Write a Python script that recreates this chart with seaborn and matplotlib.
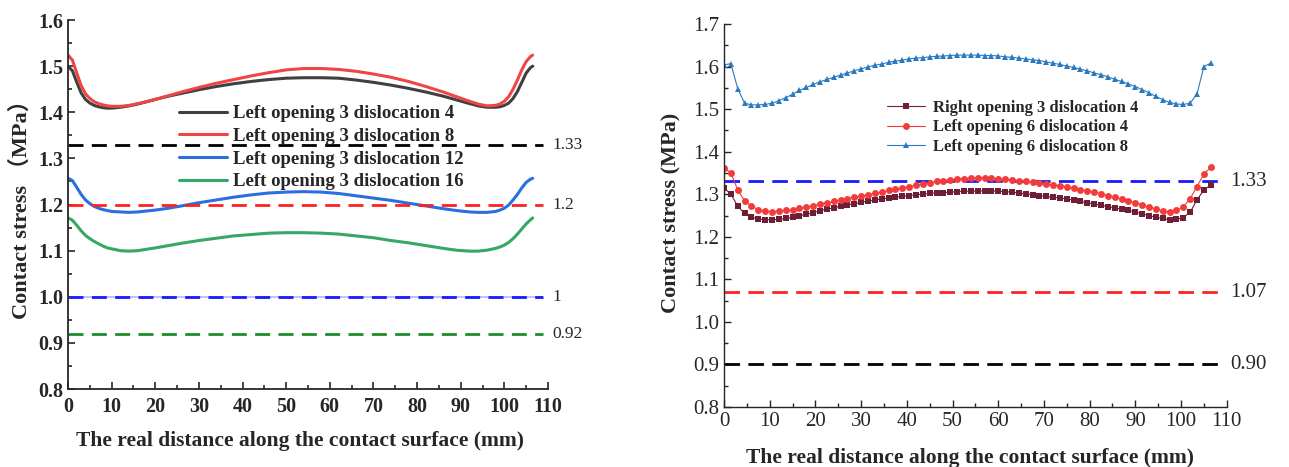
# %%
import numpy as np
import seaborn as sns
import matplotlib.pyplot as plt
from matplotlib.ticker import MultipleLocator, FormatStrFormatter

sns.set_style('ticks')
plt.rcParams['font.family'] = ['Liberation Serif', 'Noto Sans CJK SC', 'DejaVu Sans']
plt.rcParams['xtick.direction'] = 'in'
plt.rcParams['ytick.direction'] = 'in'

# %%
# left panel: opening 3, different dislocations
x_left = [0, 1, 2, 3, 4, 5, 6, 7, 8, 9, 10, 12, 14, 16, 18, 20, 23, 26, 30, 34, 38, 42,
          46, 50, 54, 58, 62, 66, 70, 74, 78, 82, 86, 89, 92, 94, 96, 98, 99, 100, 101,
          102, 103, 104, 105, 106, 106.5]

disloc_4 = [1.500, 1.490, 1.465, 1.442, 1.428, 1.420, 1.415, 1.412, 1.410, 1.409, 1.409,
            1.411, 1.414, 1.418, 1.423, 1.428, 1.435, 1.441, 1.449, 1.456, 1.462, 1.467,
            1.471, 1.474, 1.475, 1.475, 1.474, 1.470, 1.465, 1.459, 1.452, 1.444, 1.435,
            1.427, 1.419, 1.414, 1.411, 1.411, 1.412, 1.415, 1.420, 1.430, 1.445, 1.465,
            1.485, 1.497, 1.500]
disloc_8 = [1.524, 1.513, 1.485, 1.458, 1.440, 1.430, 1.423, 1.419, 1.416, 1.414, 1.413,
            1.413, 1.415, 1.419, 1.423, 1.428, 1.436, 1.444, 1.454, 1.463, 1.471, 1.479,
            1.486, 1.492, 1.495, 1.495, 1.493, 1.489, 1.483, 1.476, 1.467, 1.456, 1.444,
            1.434, 1.424, 1.418, 1.414, 1.415, 1.418, 1.424, 1.434, 1.450, 1.470, 1.492,
            1.510, 1.521, 1.524]
disloc_12 = [1.257, 1.252, 1.237, 1.222, 1.210, 1.202, 1.196, 1.192, 1.189, 1.187, 1.185,
             1.184, 1.183, 1.184, 1.186, 1.188, 1.192, 1.197, 1.204, 1.210, 1.216, 1.221,
             1.225, 1.227, 1.228, 1.227, 1.224, 1.219, 1.214, 1.209, 1.203, 1.197, 1.191,
             1.187, 1.184, 1.183, 1.183, 1.185, 1.188, 1.192, 1.199, 1.210, 1.222, 1.236,
             1.248, 1.255, 1.257]
disloc_16 = [1.171, 1.166, 1.155, 1.143, 1.133, 1.126, 1.120, 1.115, 1.110, 1.106, 1.104,
             1.100, 1.099, 1.100, 1.103, 1.106, 1.111, 1.116, 1.122, 1.127, 1.132, 1.135,
             1.138, 1.139, 1.139, 1.138, 1.136, 1.132, 1.128, 1.122, 1.117, 1.111, 1.105,
             1.101, 1.099, 1.099, 1.101, 1.105, 1.108, 1.112, 1.118, 1.126, 1.136, 1.147,
             1.158, 1.167, 1.171]

left_labels = ['Left opening 3 dislocation 4', 'Left opening 3 dislocation 8',
               'Left opening 3 dislocation 12', 'Left opening 3 dislocation 16']
left_ref = [1.33, 1.2, 1.0, 0.92]
left_ref_text = ['1.33', '1.2', '1', '0.92']

# %%
# right panel
x_right = [0, 1.5, 3, 4.5, 6, 7.5, 9, 10.5, 12, 13.5, 15, 16.5,
           18, 19.5, 21, 22.5, 24, 25.5, 27, 28.5, 30, 31.5, 33, 34.5,
           36, 37.5, 39, 40.5, 42, 43.5, 45, 46.5, 48, 49.5, 51, 52.5,
           54, 55.5, 57, 58.5, 60, 61.5, 63, 64.5, 66, 67.5, 69, 70.5,
           72, 73.5, 75, 76.5, 78, 79.5, 81, 82.5, 84, 85.5, 87, 88.5,
           90, 91.5, 93, 94.5, 96, 97.5, 99, 100.5, 102, 103.5, 105, 106.5]

right_o3_d4 = [1.315, 1.300, 1.272, 1.255, 1.246, 1.242, 1.240, 1.240, 1.241, 1.243, 1.246, 1.249,
               1.253, 1.257, 1.261, 1.265, 1.268, 1.272, 1.275, 1.278, 1.281, 1.284, 1.286, 1.289,
               1.291, 1.293, 1.295, 1.297, 1.299, 1.300, 1.302, 1.303, 1.304, 1.305, 1.306, 1.307,
               1.307, 1.308, 1.308, 1.308, 1.307, 1.306, 1.305, 1.303, 1.301, 1.299, 1.297, 1.295,
               1.293, 1.291, 1.289, 1.286, 1.283, 1.280, 1.277, 1.274, 1.271, 1.268, 1.265, 1.262,
               1.258, 1.254, 1.250, 1.246, 1.243, 1.240, 1.241, 1.245, 1.258, 1.287, 1.310, 1.322]
left_o6_d4 = [1.362, 1.350, 1.310, 1.285, 1.272, 1.264, 1.260, 1.259, 1.260, 1.262, 1.264, 1.267,
              1.270, 1.273, 1.277, 1.280, 1.283, 1.287, 1.290, 1.293, 1.296, 1.299, 1.302, 1.305,
              1.309, 1.312, 1.315, 1.318, 1.321, 1.324, 1.327, 1.330, 1.332, 1.334, 1.336, 1.337,
              1.338, 1.338, 1.338, 1.338, 1.337, 1.336, 1.334, 1.332, 1.330, 1.328, 1.326, 1.324,
              1.322, 1.320, 1.317, 1.314, 1.311, 1.308, 1.305, 1.301, 1.297, 1.293, 1.289, 1.285,
              1.280, 1.275, 1.270, 1.265, 1.261, 1.259, 1.262, 1.270, 1.290, 1.318, 1.348, 1.363]
left_o6_d8 = [1.604, 1.607, 1.548, 1.514, 1.510, 1.510, 1.511, 1.514, 1.520, 1.527, 1.535, 1.544,
              1.551, 1.558, 1.564, 1.570, 1.575, 1.580, 1.585, 1.590, 1.595, 1.599, 1.603, 1.606,
              1.610, 1.613, 1.615, 1.618, 1.620, 1.621, 1.623, 1.624, 1.625, 1.626, 1.627, 1.627,
              1.627, 1.627, 1.626, 1.626, 1.625, 1.623, 1.622, 1.620, 1.618, 1.616, 1.614, 1.611,
              1.608, 1.605, 1.601, 1.598, 1.594, 1.590, 1.585, 1.581, 1.576, 1.570, 1.565, 1.559,
              1.553, 1.546, 1.538, 1.530, 1.522, 1.516, 1.512, 1.511, 1.514, 1.536, 1.600, 1.608]

right_labels = ['Right opening 3 dislocation 4', 'Left opening 6 dislocation 4',
                'Left opening 6 dislocation 8']
right_ref = [1.33, 1.07, 0.90]
right_ref_text = ['1.33', '1.07', '0.90']

# %%
fig = plt.figure(figsize=(12.89, 4.67), dpi=100)
ax1 = fig.add_axes([0.0528, 0.167, 0.3723, 0.790])
ax2 = fig.add_axes([0.5617, 0.1285, 0.390, 0.820])

# ---- left
left_cols = ['#404040', '#f04545', '#2a6fe0', '#34a865']
for vals, col, lab in zip([disloc_4, disloc_8, disloc_12, disloc_16], left_cols, left_labels):
    sns.lineplot(x=x_left, y=vals, ax=ax1, color=col, lw=2.2, label=lab)

ref_cols_l = ['black', '#ff2020', '#1a1aff', '#1f8c2a']
ax1.hlines(1.0, 0, 108.8, color='#b8b8ff', lw=1.2, zorder=1)
for v, c, t in zip(left_ref, ref_cols_l, left_ref_text):
    ax1.hlines(v, 0, 108.8, color=c, lw=2.0, linestyles=(0, (5.4, 3.0)), zorder=2)
    ax1.text(111, v, t, va='center', ha='left', fontsize=12.5, clip_on=False)

ax1.set_xlim(0, 110)
ax1.set_ylim(0.8, 1.6)
ax1.xaxis.set_major_locator(MultipleLocator(10))
ax1.xaxis.set_minor_locator(MultipleLocator(5))
ax1.yaxis.set_major_locator(MultipleLocator(0.1))
ax1.yaxis.set_minor_locator(MultipleLocator(0.05))
ax1.yaxis.set_major_formatter(FormatStrFormatter('%.1f'))
ax1.tick_params(which='major', length=5, width=1.2, labelsize=14.5)
ax1.tick_params(which='minor', length=3, width=1.2)
ax1.tick_params(axis='x', pad=6)
for s in ['top', 'right']:
    ax1.spines[s].set_visible(False)
for s in ['left', 'bottom']:
    ax1.spines[s].set_linewidth(1.3)

ax1.set_xlabel('The real distance along the contact surface (mm)', fontsize=15.5, fontweight='bold')
ax1.set_ylabel('Contact stress （MPa）', fontsize=16, fontweight='bold')
ax1.xaxis.set_label_coords(0.483, -0.113)
ax1.yaxis.set_label_coords(-0.075, 0.5)
ax1.legend(loc='upper left', bbox_to_anchor=(0.215, 0.79), frameon=False,
           prop={'weight': 'bold', 'size': 13.5}, handlelength=2.6, handletextpad=0.3,
           labelspacing=0.3, borderaxespad=0)

# ---- right
right_cols = ['#6e1f35', '#f23c3c', '#2a7ac0']
right_marks = ['s', 'o', '^']
for vals, col, m, lab in zip([right_o3_d4, left_o6_d4, left_o6_d8], right_cols, right_marks, right_labels):
    sns.lineplot(x=x_right, y=vals, ax=ax2, color=col, lw=0.8, marker=m, markersize=5,
                 markeredgewidth=0, label=lab)

ref_cols_r = ['#1a1aff', '#ff2020', 'black']
for v, c, t in zip(right_ref, ref_cols_r, right_ref_text):
    ax2.hlines(v, 0, 109, color=c, lw=2.0, linestyles=(0, (5.6, 3.0)), zorder=1)
    ax2.text(110.8, v, t, va='center', ha='left', fontsize=15, clip_on=False)

ax2.set_xlim(0, 110)
ax2.set_ylim(0.8, 1.7)
ax2.xaxis.set_major_locator(MultipleLocator(10))
ax2.xaxis.set_minor_locator(MultipleLocator(5))
ax2.yaxis.set_major_locator(MultipleLocator(0.1))
ax2.yaxis.set_minor_locator(MultipleLocator(0.05))
ax2.yaxis.set_major_formatter(FormatStrFormatter('%.1f'))
ax2.tick_params(which='major', length=5, width=1.0, labelsize=15)
ax2.tick_params(which='minor', length=3, width=1.0)
for s in ['top', 'right']:
    ax2.spines[s].set_visible(False)
for s in ['left', 'bottom']:
    ax2.spines[s].set_linewidth(1.0)

ax2.set_xlabel('The real distance along the contact surface (mm)', fontsize=15.5, fontweight='bold')
ax2.set_ylabel('Contact stress (MPa)', fontsize=16, fontweight='bold')
ax2.xaxis.set_label_coords(0.489, -0.108)
ax2.yaxis.set_label_coords(-0.085, 0.507)
ax2.legend(loc='upper left', bbox_to_anchor=(0.31, 0.82), frameon=False,
           prop={'weight': 'bold', 'size': 12}, handlelength=2.3, handletextpad=0.5,
           labelspacing=0.23, borderaxespad=0)

# bold tick labels on the left panel
for lbl in ax1.get_xticklabels() + ax1.get_yticklabels():
    lbl.set_fontweight('bold')

fig.savefig('out.png', dpi=100)
